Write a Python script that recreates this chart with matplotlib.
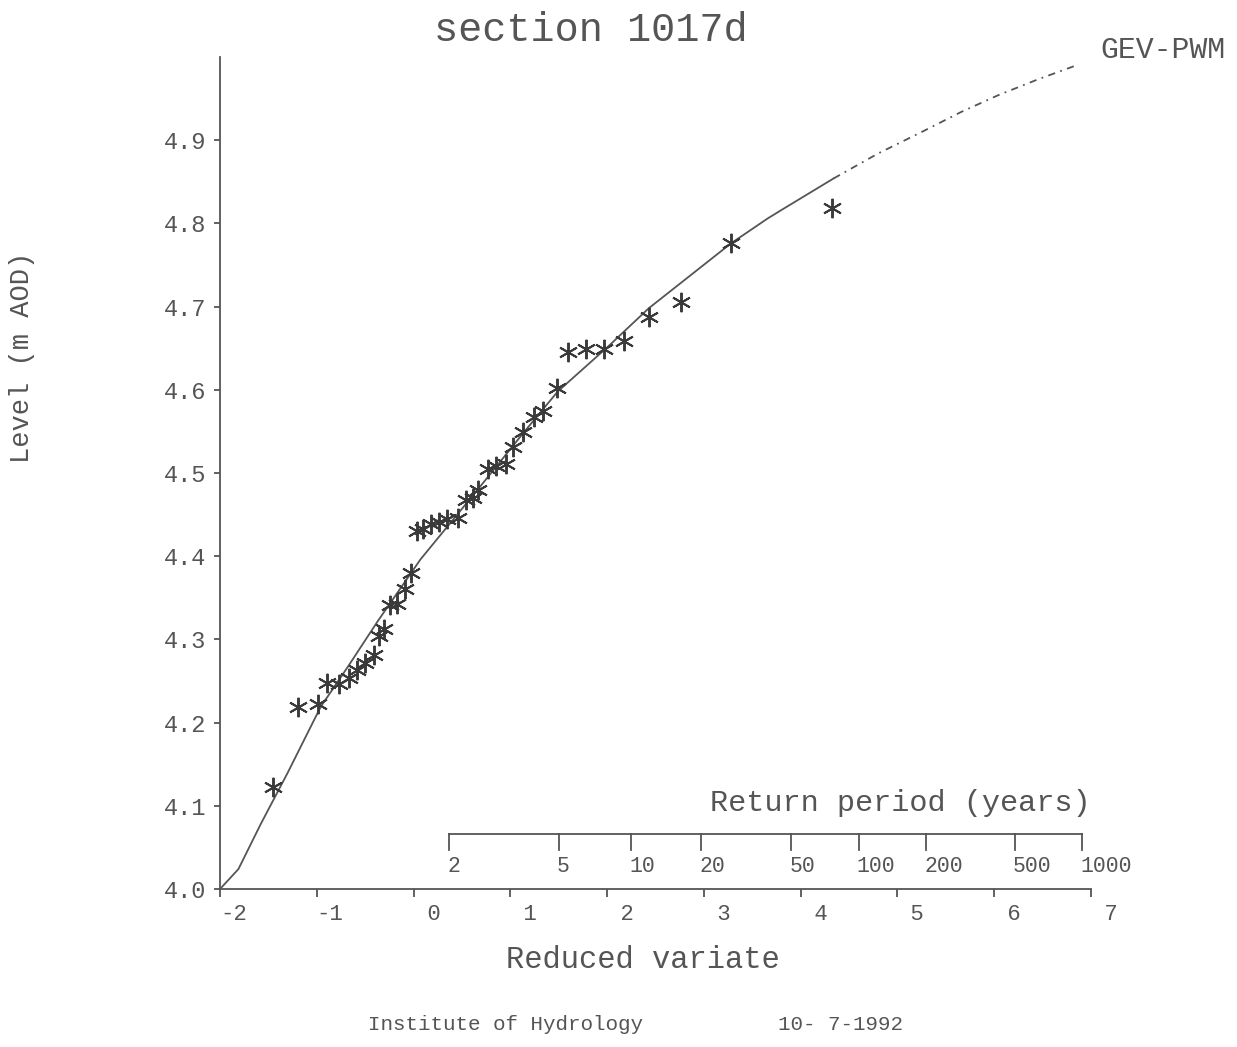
import numpy as np
import matplotlib
matplotlib.use('Agg')
import matplotlib.pyplot as plt

# Observed annual maxima (reduced variate, level in m AOD)
obs_x = [-1.45, -1.19, -0.99, -0.90, -0.77, -0.67, -0.59, -0.50, -0.41, -0.36,
         -0.31, -0.24, -0.17, -0.09, -0.03, 0.03, 0.10, 0.18, 0.26, 0.35,
         0.46, 0.54, 0.61, 0.67, 0.77, 0.85, 0.95, 1.03, 1.13, 1.24,
         1.34, 1.48, 1.60, 1.78, 1.97, 2.17, 2.43, 2.76, 3.28, 4.32]
obs_y = [4.123, 4.219, 4.222, 4.247, 4.246, 4.253, 4.263, 4.272, 4.281, 4.304,
         4.312, 4.341, 4.342, 4.360, 4.380, 4.430, 4.433, 4.439, 4.441, 4.445,
         4.446, 4.467, 4.470, 4.480, 4.505, 4.508, 4.511, 4.531, 4.549, 4.567,
         4.575, 4.602, 4.646, 4.649, 4.649, 4.659, 4.688, 4.706, 4.776, 4.819]

# GEV-PWM fitted curve (solid over data range, dash-dot extrapolation)
fit_x = [-2.0, -1.81, -1.58, -1.30, -0.96, -0.68, -0.37, 0.07, 0.69, 1.14,
         1.49, 2.01, 2.43, 3.28, 3.66, 3.80, 4.34]
fit_y = [4.000, 4.024, 4.078, 4.140, 4.219, 4.267, 4.322, 4.396, 4.484, 4.549,
         4.598, 4.652, 4.698, 4.776, 4.806, 4.816, 4.854]
ext_x = [4.34, 4.80, 5.27, 5.66, 6.04, 6.45, 6.85]
ext_y = [4.854, 4.884, 4.911, 4.934, 4.954, 4.973, 4.990]

ret_periods = [2, 5, 10, 20, 50, 100, 200, 500, 1000]

INK = '#555555'
MONO = 'Liberation Mono'

fig = plt.figure(figsize=(12.37, 10.47), dpi=100)
ax = fig.add_axes([0.1779, 0.1509, 0.882 - 0.1779, 0.9456 - 0.1509])

ax.plot(fit_x, fit_y, color=INK, lw=1.3)
ax.plot(ext_x, ext_y, color=INK, lw=1.3, dashes=(4, 3, 1, 3))
ax.plot(obs_x, obs_y, ls='none', marker=(6, 2, 0), ms=14, mew=1.4,
        color='#3a3a3a')

ax.set_xlim(-2, 7)
ax.set_ylim(4.0, 5.0)
for s in ['top', 'right']:
    ax.spines[s].set_visible(False)
for s in ['left', 'bottom']:
    ax.spines[s].set_color(INK)
    ax.spines[s].set_linewidth(1.3)

xt = list(range(-2, 8))
ax.set_xticks(xt)
ax.set_xticklabels(['%2d' % v for v in xt], family=MONO, fontsize=16, color=INK)
for lab in ax.get_xticklabels():
    lab.set_ha('left')
yt = [4.0 + 0.1 * i for i in range(10)]
ax.set_yticks(yt)
ax.set_yticklabels(['%.1f' % v for v in yt], family=MONO, fontsize=17, color=INK)
ax.tick_params(axis='x', direction='out', length=6, width=1.3, color=INK, pad=5)
ax.tick_params(axis='y', direction='out', length=4, width=1.3, color=INK, pad=6)

# return period scale inside the axes
rp_x = [-np.log(-np.log(1 - 1.0 / t)) for t in ret_periods]
tr = ax.get_xaxis_transform()
ybase = 0.0661
ax.plot([rp_x[0], rp_x[-1]], [ybase, ybase], transform=tr, color=INK, lw=1.3,
        clip_on=False)
for v, t in zip(rp_x, ret_periods):
    ax.plot([v, v], [ybase, ybase - 0.019], transform=tr, color=INK, lw=1.3,
            clip_on=False)
    ax.text(v - 0.02, ybase - 0.027, str(t), transform=tr, family=MONO,
            fontsize=15.5, color=INK, ha='left', va='top')
ax.text(7.0, 0.103, 'Return period (years)', transform=tr, family=MONO,
        fontsize=21.8, color=INK, ha='right', va='center')

fig.text(591 / 1237, 1 - 30 / 1047, 'section 1017d', family=MONO, fontsize=29,
         color=INK, ha='center', va='center')
fig.text(1100 / 1237, 1 - 50 / 1047, 'GEV-PWM', family=MONO, fontsize=21.5,
         color=INK, ha='left', va='center')
fig.text(643 / 1237, 1 - 960 / 1047, 'Reduced variate', family=MONO, fontsize=22,
         color=INK, ha='center', va='center')
fig.text(22 / 1237, 1 - 357 / 1047, 'Level (m AOD)', family=MONO, fontsize=19.5,
         color=INK, ha='center', va='center', rotation=90)
fig.text(368 / 1237, 1 - 1025 / 1047, 'Institute of Hydrology', family=MONO,
         fontsize=15, color=INK, ha='left', va='center')
fig.text(778 / 1237, 1 - 1025 / 1047, '10- 7-1992', family=MONO,
         fontsize=15, color=INK, ha='left', va='center')

fig.savefig('out.png', dpi=100, facecolor='white')
